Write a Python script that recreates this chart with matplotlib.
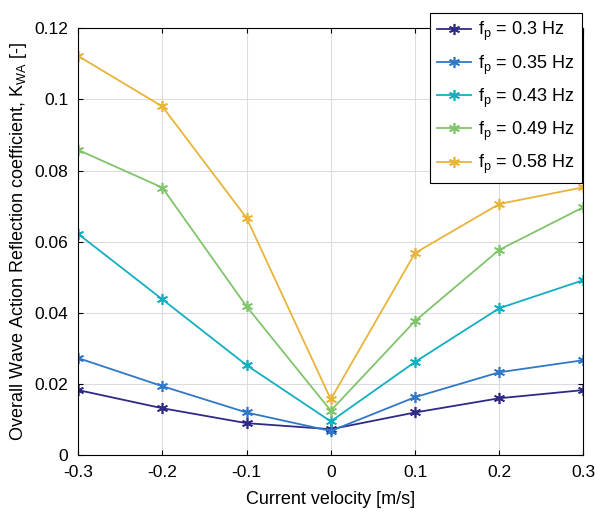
import matplotlib
matplotlib.use("Agg")
import matplotlib.pyplot as plt

plt.rcParams['font.family'] = ['Liberation Sans', 'DejaVu Sans']
plt.rcParams['mathtext.fontset'] = 'custom'
plt.rcParams['mathtext.rm'] = 'Liberation Sans'

x = [-0.3, -0.2, -0.1, 0, 0.1, 0.2, 0.3]
labels = ['f$_\\mathrm{p}$ = 0.3 Hz', 'f$_\\mathrm{p}$ = 0.35 Hz', 'f$_\\mathrm{p}$ = 0.43 Hz',
          'f$_\\mathrm{p}$ = 0.49 Hz', 'f$_\\mathrm{p}$ = 0.58 Hz']
s030 = [0.0183, 0.0132, 0.0090, 0.0073, 0.0120, 0.0160, 0.0183]
s035 = [0.0273, 0.0194, 0.0120, 0.0068, 0.0163, 0.0233, 0.0267]
s043 = [0.0622, 0.0438, 0.0253, 0.0095, 0.0262, 0.0413, 0.0492]
s049 = [0.0858, 0.0752, 0.0418, 0.0125, 0.0377, 0.0577, 0.0697]
s058 = [0.1122, 0.0980, 0.0667, 0.0157, 0.0568, 0.0706, 0.0753]
series = [s030, s035, s043, s049, s058]
colors = ['#2e2a86', '#2f78c8', '#12afc0', '#80c46c', '#e9b43c']

fig = plt.figure(figsize=(5.96, 5.22), dpi=100)
ax = fig.add_axes([0.131, 0.128, 0.848, 0.818])
for s, c, l in zip(series, colors, labels):
    ax.plot(x, s, '-', marker=(6, 2, 0), color=c, label=l, lw=1.3, ms=8, mew=1.2)
ax.set_xlim(-0.3, 0.3)
ax.set_ylim(0, 0.12)
ax.set_xticks(x)
ax.set_xticklabels(['-0.3', '-0.2', '-0.1', '0', '0.1', '0.2', '0.3'])
ax.set_yticks([0, 0.02, 0.04, 0.06, 0.08, 0.1, 0.12])
ax.set_yticklabels(['0', '0.02', '0.04', '0.06', '0.08', '0.1', '0.12'])
ax.grid(True, color='#dcdcdc', lw=0.8)
ax.tick_params(direction='in', labelsize=12.5, top=True, right=True, pad=7)
ax.set_xlabel('Current velocity [m/s]', fontsize=13, labelpad=8)
ax.set_ylabel('Overall Wave Action Reflection coefficient, K$_\\mathrm{WA}$ [-]', fontsize=13, labelpad=4)
leg = ax.legend(loc='upper right', bbox_to_anchor=(582/596, 1-13/522), bbox_transform=fig.transFigure,
                fontsize=13, fancybox=False, edgecolor='black', framealpha=1, borderaxespad=0,
                handlelength=1.9, handletextpad=0.4, labelspacing=0.55, borderpad=0.4)
leg.get_frame().set_linewidth(0.8)
fig.savefig('out.png', dpi=100)
